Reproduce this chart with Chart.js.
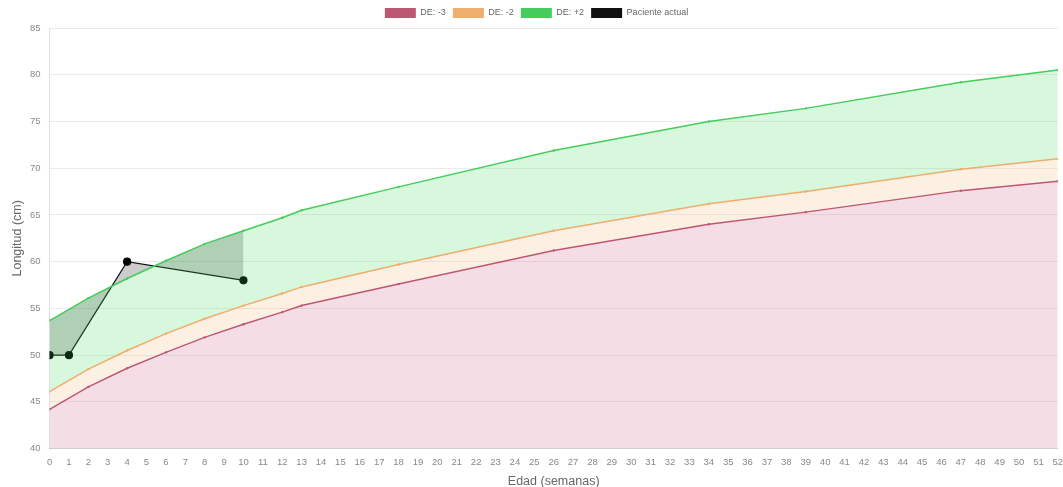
<!DOCTYPE html>
<html>
<head>
<meta charset="utf-8">
<script src="https://cdn.jsdelivr.net/npm/chart.js@4.4.0/dist/chart.umd.min.js"></script>
<style>
  html, body { margin: 0; padding: 0; background: #fff; }
  #wrap { width: 1063px; height: 487px; position: relative; }
</style>
</head>
<body>
<div id="wrap"><canvas id="lengthChart"></canvas></div>
<script>
// Reference curves (weeks where the curve has a point)
const refWeeks = [0, 2, 4, 6, 8, 10, 12, 13, 18, 26, 34, 39, 47, 52];
const deMinus3 = [44.2, 46.6, 48.6, 50.3, 51.9, 53.3, 54.6, 55.3, 57.6, 61.2, 64.0, 65.3, 67.6, 68.6];
const deMinus2 = [46.1, 48.5, 50.5, 52.3, 53.9, 55.3, 56.6, 57.3, 59.7, 63.3, 66.2, 67.5, 69.9, 71.0];
const dePlus2  = [53.7, 56.1, 58.2, 60.1, 61.9, 63.3, 64.7, 65.5, 68.0, 71.9, 75.0, 76.4, 79.2, 80.5];

// Current patient
const patientWeeks = [0, 1, 4, 10];
const patientLength = [50, 50, 60, 58];

const yTicks = [40, 45, 50, 55, 60, 65, 70, 75, 80, 85];

function toPoints(xs, ys) {
    return xs.map((x, i) => ({ x: x, y: ys[i] }));
}

Chart.defaults.font.family = "'Liberation Sans', Arial, Helvetica, sans-serif";
Chart.defaults.color = '#666';

function curve(label, data, line, fillColor, fillTarget) {
    return {
        label: label,
        data: data,
        borderColor: line,
        backgroundColor: fillColor,
        pointBackgroundColor: line,
        pointBorderColor: line,
        pointRadius: 1.2,
        pointBorderWidth: 0,
        borderWidth: 1.5,
        fill: fillTarget,
        tension: 0,
    };
}

new Chart(document.getElementById('lengthChart'), {
    type: 'line',
    data: {
        datasets: [
            curve('DE: -3', toPoints(refWeeks, deMinus3), '#bd5872', 'rgba(205, 85, 125, 0.2)', 'start'),
            curve('DE: -2', toPoints(refWeeks, deMinus2), '#eeae6c', 'rgba(240, 170, 100, 0.18)', '-1'),
            curve('DE: +2', toPoints(refWeeks, dePlus2), '#45cc5c', 'rgba(55, 220, 80, 0.2)', '-1'),
            {
                label: 'Paciente actual',
                data: toPoints(patientWeeks, patientLength),
                borderColor: '#111',
                backgroundColor: 'rgba(0, 0, 0, 0.2)',
                pointBackgroundColor: '#000',
                pointBorderColor: '#000',
                pointRadius: 3.5,
                borderWidth: 1.2,
                fill: '-1',
                tension: 0,
            },
        ],
    },
    options: {
        responsive: true,
        maintainAspectRatio: false,
        animation: false,
        layout: { padding: { left: 10, right: 0, top: 1, bottom: 0 } },
        plugins: {
            legend: {
                display: true,
                position: 'top',
                labels: {
                    boxWidth: 31,
                    boxHeight: 10,
                    padding: 7,
                    color: '#666',
                    font: { size: 9 },
                    generateLabels: function(chart) {
                        const items = Chart.defaults.plugins.legend.labels.generateLabels(chart);
                        items.forEach(item => {
                            item.fillStyle = item.strokeStyle;
                            item.lineWidth = 0;
                        });
                        return items;
                    },
                },
            },
            tooltip: { enabled: false },
        },
        scales: {
            x: {
                type: 'linear',
                min: 0,
                max: 52,
                afterFit: function(axis) {
                    axis.paddingRight = 5;
                },
                grid: { display: false, drawTicks: false },
                border: { display: true, color: 'rgba(0,0,0,0.12)' },
                ticks: {
                    stepSize: 1,
                    autoSkip: false,
                    maxRotation: 0,
                    padding: 8,
                    color: '#888',
                    font: { size: 9.5 },
                },
                title: {
                    display: true,
                    text: 'Edad (semanas)',
                    color: '#666',
                    font: { size: 12.5 },
                    padding: { top: -2, bottom: -2 },
                },
            },
            y: {
                min: 40,
                max: 85,
                afterBuildTicks: function(axis) {
                    axis.ticks = yTicks.map(v => ({ value: v }));
                },
                grid: { color: 'rgba(0,0,0,0.08)', drawTicks: false },
                border: { display: true, color: 'rgba(0,0,0,0.12)' },
                ticks: {
                    padding: 9,
                    color: '#888',
                    font: { size: 9.5 },
                },
                title: {
                    display: true,
                    text: 'Longitud (cm)',
                    color: '#666',
                    font: { size: 12.5 },
                    padding: { top: 0, bottom: -4 },
                },
            },
        },
    },
});
</script>
</body>
</html>
